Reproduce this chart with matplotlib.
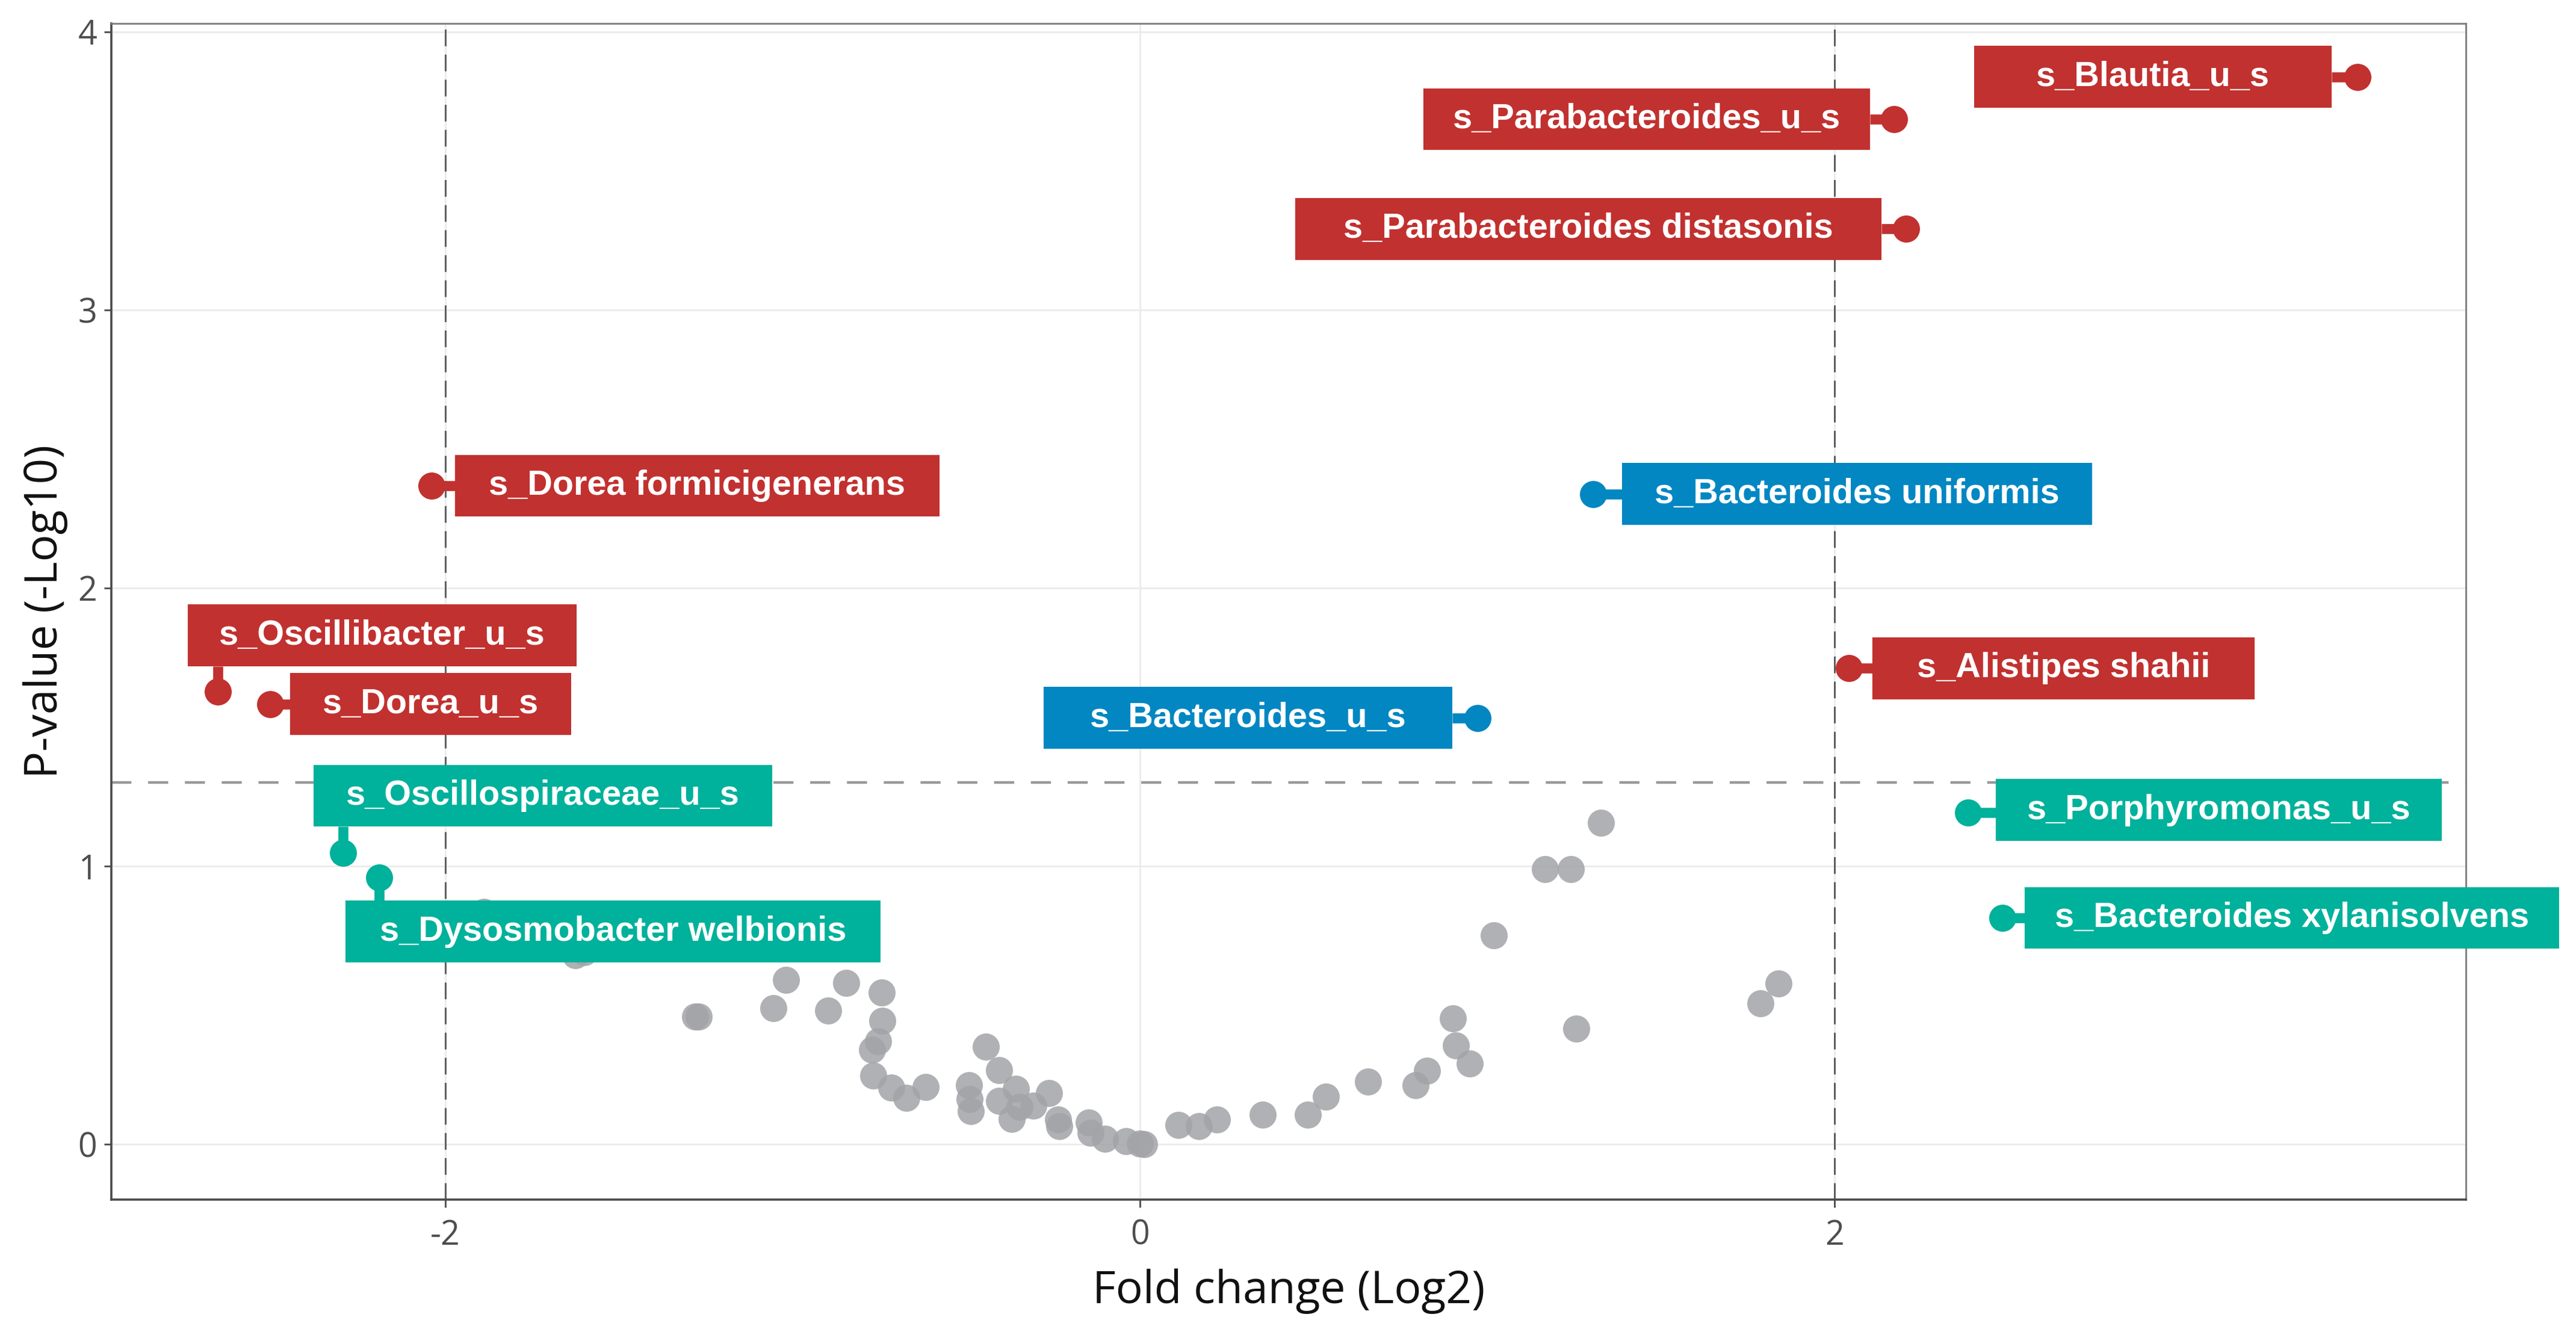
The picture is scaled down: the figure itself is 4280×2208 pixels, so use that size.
import numpy as np
import matplotlib
matplotlib.use('Agg')
import matplotlib.pyplot as plt
from matplotlib.patches import Rectangle

# non-significant taxa (grey cloud)
gray_fc = [-1.89, -1.625, -1.60, -1.28, -1.27, -1.02, -1.055, -0.846, -0.898,
           -0.743, -0.742, -0.754, -0.771, -0.768, -0.715, -0.672, -0.617,
           -0.493, -0.49, -0.487, -0.444, -0.406, -0.357, -0.405, -0.346,
           -0.369, -0.306, -0.261, -0.236, -0.233, -0.148, -0.143, -0.10,
           -0.04, 0.0, 0.012, 0.11, 0.17, 0.221, 0.353, 0.484, 0.535, 0.656,
           0.794, 0.826, 0.902, 0.909, 0.95, 1.019, 1.166, 1.241, 1.328,
           1.257, 1.787, 1.839]
gray_p = [0.835, 0.68, 0.69, 0.46, 0.46, 0.59, 0.49, 0.58, 0.48,
          0.545, 0.444, 0.37, 0.339, 0.247, 0.203, 0.167, 0.206,
          0.213, 0.163, 0.12, 0.35, 0.267, 0.199, 0.156, 0.134,
          0.091, 0.138, 0.185, 0.088, 0.066, 0.077, 0.041, 0.019,
          0.012, 0.003, 0.0, 0.07, 0.064, 0.089, 0.107, 0.107, 0.172, 0.226,
          0.212, 0.264, 0.453, 0.356, 0.29, 0.752, 0.99, 0.99, 1.155,
          0.415, 0.506, 0.579]

# labelled taxa
hit_names = ['s_Blautia_u_s', 's_Parabacteroides_u_s', 's_Parabacteroides distasonis',
             's_Dorea formicigenerans', 's_Bacteroides uniformis', 's_Oscillibacter_u_s',
             's_Dorea_u_s', 's_Bacteroides_u_s', 's_Alistipes shahii',
             's_Oscillospiraceae_u_s', 's_Dysosmobacter welbionis',
             's_Porphyromonas_u_s', 's_Bacteroides xylanisolvens']
hit_fc = [3.506, 2.171, 2.206, -2.04, 1.305, -2.656, -2.504, 0.973, 2.041,
          -2.295, -2.191, 2.384, 2.483]
hit_p = [3.838, 3.686, 3.291, 2.368, 2.338, 1.628, 1.583, 1.533, 1.711,
         1.048, 0.959, 1.192, 0.814]
hit_group = ['red', 'red', 'red', 'red', 'blue', 'red', 'red', 'blue', 'red',
             'teal', 'teal', 'teal', 'teal']

# label box layout (offset of box centre from the point, box width), data units
lab_dx = [-0.589, -0.712, -0.915, 0.765, 0.76, 0.474, 0.462, -0.662, 0.619,
          0.575, 0.674, 0.723, 0.834]
lab_dy = [0.0, 0.0, 0.0, 0.0, 0.0, 0.202, 0.0, 0.0, 0.0, 0.205, -0.194, 0.01, 0.0]
lab_w = [1.03, 1.287, 1.687, 1.396, 1.355, 1.12, 0.809, 1.176, 1.101,
         1.321, 1.541, 1.285, 1.539]
BOX_H = 0.222

COLORS = {'red': '#C1312F', 'blue': '#0287C2', 'teal': '#00B19B'}

plt.rcParams['lines.scale_dashes'] = False

fig = plt.figure(figsize=(42.8, 22.08), dpi=100)
ax = fig.add_axes([185 / 4280, 1 - 1993 / 2208, (4097 - 185) / 4280, (1993 - 39) / 2208])

ax.set_xlim(-2.962, 3.818)
ax.set_ylim(-0.199, 4.03)
ax.set_xticks([-2, 0, 2])
ax.set_yticks([0, 1, 2, 3, 4])
ax.set_xticklabels(['-2', '0', '2'])
ax.grid(True, color='#EBEBEB', linewidth=2, zorder=0)
ax.set_axisbelow(True)

# threshold lines
ax.axhline(1.3, color='#9A9A9A', linewidth=3.2, dashes=(24, 20), zorder=1)
for xv in (-2, 2):
    ax.axvline(xv, color='#555555', linewidth=2, dashes=(20, 10), zorder=1)

ax.scatter(gray_fc, gray_p, s=1050, color='#A3A4A8', alpha=0.85,
           linewidths=0, zorder=2)

for i, name in enumerate(hit_names):
    px, py = hit_fc[i], hit_p[i]
    col = COLORS[hit_group[i]]
    cx, cy = px + lab_dx[i], py + lab_dy[i]
    left, right = cx - lab_w[i] / 2, cx + lab_w[i] / 2
    bot, top = cy - BOX_H / 2, cy + BOX_H / 2
    tx = min(max(px, left), right)
    ty = min(max(py, bot), top)
    ax.plot([px, tx], [py, ty], color=col, linewidth=12,
            solid_capstyle='butt', zorder=3, clip_on=False)
    ax.add_patch(Rectangle((left, bot), lab_w[i], BOX_H, facecolor=col,
                           edgecolor='none', zorder=4, clip_on=False))
    ax.text(cx, cy, name, ha='center', va='center', color='white',
            fontsize=41.5, fontweight='bold', family='Liberation Sans',
            zorder=5, clip_on=False)
    ax.scatter([px], [py], s=1050, color=col, linewidths=0, zorder=5,
               clip_on=False)

for side in ('top', 'right'):
    ax.spines[side].set_color('#7A7A7A')
    ax.spines[side].set_linewidth(2)
for side in ('left', 'bottom'):
    ax.spines[side].set_color('#4A4A4A')
    ax.spines[side].set_linewidth(2.6)

ax.tick_params(axis='both', length=9, width=2, color='#4A4A4A',
               labelsize=40, labelcolor='#4D4D4D')
ax.tick_params(axis='x', pad=14)
ax.tick_params(axis='y', pad=8)
for lbl in ax.get_xticklabels() + ax.get_yticklabels():
    lbl.set_family('Open Sans')

fig.text(2141 / 4280, 1 - 2145 / 2208, 'Fold change (Log2)', ha='center',
         va='center', fontsize=54, family='Open Sans', color='#111111')
fig.text(76 / 4280, 1 - 1016 / 2208, 'P-value (-Log10)', ha='center',
         va='center', rotation=90, fontsize=54, family='Open Sans',
         color='#111111')

fig.savefig('out.png', dpi=100, facecolor='white')
